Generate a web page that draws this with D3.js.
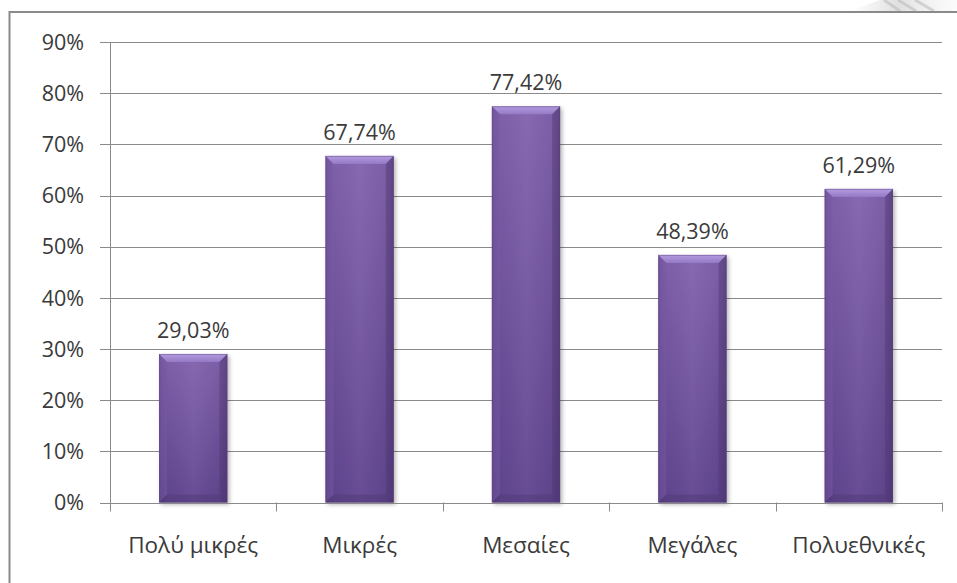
<!DOCTYPE html>
<html>
<head>
<meta charset="utf-8">
<script src="https://cdn.jsdelivr.net/npm/d3@7"></script>
<style>
  html, body { margin: 0; padding: 0; background: #ffffff; }
  svg { display: block; }
  text { font-family: "Open Sans", "Noto Sans", sans-serif; fill: #3a3a3a; }
</style>
</head>
<body>
<svg id="chart" width="957" height="583"></svg>
<script>
// Share of companies per size class
const categories = ["Πολύ μικρές", "Μικρές", "Μεσαίες", "Μεγάλες", "Πολυεθνικές"];
const values = [29.03, 67.74, 77.42, 48.39, 61.29];
const valueLabels = ["29,03%", "67,74%", "77,42%", "48,39%", "61,29%"];
const yTicks = [0, 10, 20, 30, 40, 50, 60, 70, 80, 90];
const yTickLabels = ["0%", "10%", "20%", "30%", "40%", "50%", "60%", "70%", "80%", "90%"];

const svg = d3.select("#chart");
const W = 957, H = 583;
const plot = { left: 110, right: 942, top: 42, bottom: 502.5 };
const gridColor = "#8a8a8a";

const x = d3.scaleBand().domain(categories).range([plot.left, plot.right]).paddingInner(0).paddingOuter(0);
const y = d3.scaleLinear().domain([0, 90]).range([plot.bottom, plot.top]);

const defs = svg.append("defs");

// body shading: darker towards the base
const gBody = defs.append("linearGradient").attr("id", "barBody").attr("x1", 0).attr("y1", 0).attr("x2", 0).attr("y2", 1);
gBody.append("stop").attr("offset", "0%").attr("stop-color", "#8263ae");
gBody.append("stop").attr("offset", "100%").attr("stop-color", "#614690");

// side shading across the bar
const gSide = defs.append("linearGradient").attr("id", "barSide").attr("x1", 0).attr("y1", 0).attr("x2", 1).attr("y2", 0);
gSide.append("stop").attr("offset", "0%").attr("stop-color", "#000").attr("stop-opacity", 0.16);
gSide.append("stop").attr("offset", "12%").attr("stop-color", "#000").attr("stop-opacity", 0.03);
gSide.append("stop").attr("offset", "50%").attr("stop-color", "#fff").attr("stop-opacity", 0.04);
gSide.append("stop").attr("offset", "88%").attr("stop-color", "#000").attr("stop-opacity", 0.04);
gSide.append("stop").attr("offset", "100%").attr("stop-color", "#000").attr("stop-opacity", 0.2);

// lighter top bevel
const gTop = defs.append("linearGradient").attr("id", "barTop").attr("x1", 0).attr("y1", 0).attr("x2", 0).attr("y2", 1);
gTop.append("stop").attr("offset", "0%").attr("stop-color", "#b49ce0");
gTop.append("stop").attr("offset", "100%").attr("stop-color", "#9479c4");

const shadow = defs.append("filter").attr("id", "barShadow").attr("x", "-20%").attr("y", "-10%").attr("width", "150%").attr("height", "130%");
shadow.append("feGaussianBlur").attr("in", "SourceAlpha").attr("stdDeviation", 2.2);
shadow.append("feOffset").attr("dx", 2).attr("dy", 2).attr("result", "off");
shadow.append("feComponentTransfer").append("feFuncA").attr("type", "linear").attr("slope", 0.3);
const merge = shadow.append("feMerge");
merge.append("feMergeNode");
merge.append("feMergeNode").attr("in", "SourceGraphic");

// page background
svg.append("rect").attr("width", W).attr("height", H).attr("fill", "#ffffff");

// folded corner texture at the top right
const curlGrad = defs.append("linearGradient").attr("id", "curlGrad").attr("x1", 0).attr("y1", 0).attr("x2", 1).attr("y2", 0);
curlGrad.append("stop").attr("offset", "0%").attr("stop-color", "#e4e4e4").attr("stop-opacity", 0);
curlGrad.append("stop").attr("offset", "45%").attr("stop-color", "#dcdcdc").attr("stop-opacity", 0.9);
curlGrad.append("stop").attr("offset", "100%").attr("stop-color", "#f2f2f2").attr("stop-opacity", 0.3);
svg.append("path").attr("d", "M850,11 L957,11 L957,0 L880,0 Z").attr("fill", "url(#curlGrad)");
const curl = svg.append("g").attr("opacity", 0.6);
[[884, 0, 900, 11], [898, 0, 916, 11], [915, 0, 934, 11]].forEach(s => {
  curl.append("line").attr("x1", s[0]).attr("y1", s[1]).attr("x2", s[2]).attr("y2", s[3])
    .attr("stroke", "#bdbdbd").attr("stroke-width", 3);
});

// chart frame (continues past the right and bottom edges)
svg.append("rect").attr("x", 9.5).attr("y", 12).attr("width", W + 20).attr("height", H + 20)
  .attr("fill", "#ffffff").attr("stroke", "#8a8a8a").attr("stroke-width", 2);

// horizontal gridlines with outward ticks
svg.append("g").selectAll("line").data(yTicks.filter(t => t > 0)).join("line")
  .attr("x1", plot.left - 10).attr("x2", plot.right)
  .attr("y1", d => Math.round(y(d)) + 0.5).attr("y2", d => Math.round(y(d)) + 0.5)
  .attr("stroke", gridColor).attr("stroke-width", 1);

// y tick labels
svg.append("g").selectAll("text").data(yTicks).join("text")
  .attr("x", 84).attr("y", d => y(d))
  .attr("dy", "0.36em").attr("text-anchor", "end")
  .style("font-size", "21.5px")
  .text((d, i) => yTickLabels[i]);

// bars
const barW = x.bandwidth() * 0.41;
const bev = 8;
const bars = svg.append("g").selectAll("g").data(values).join("g")
  .attr("transform", (d, i) => `translate(${x(categories[i]) + (x.bandwidth() - barW) / 2},${y(d)})`);

bars.each(function (d) {
  const g = d3.select(this);
  const h = y(0) - y(d);
  const w = barW;
  const body = g.append("g").attr("filter", "url(#barShadow)");
  body.append("rect").attr("width", w).attr("height", h).attr("fill", "url(#barBody)");
  body.append("rect").attr("width", w).attr("height", h).attr("fill", "url(#barSide)");
  // top bevel
  g.append("path").attr("d", `M0,0 L${w},0 L${w - bev},${bev} L${bev},${bev} Z`).attr("fill", "url(#barTop)");
  // left bevel
  g.append("path").attr("d", `M0,0 L${bev},${bev} L${bev},${h - bev} L0,${h} Z`).attr("fill", "#7b5ca8").attr("opacity", 0.45);
  // right bevel
  g.append("path").attr("d", `M${w},0 L${w - bev},${bev} L${w - bev},${h - bev} L${w},${h} Z`).attr("fill", "#4f3774").attr("opacity", 0.4);
  // bottom bevel
  g.append("path").attr("d", `M0,${h} L${bev},${h - bev} L${w - bev},${h - bev} L${w},${h} Z`).attr("fill", "#4b336e").attr("opacity", 0.35);
  // thin outline
  g.append("rect").attr("x", 0.5).attr("y", 0.5).attr("width", w - 1).attr("height", h - 1)
    .attr("fill", "none").attr("stroke", "#5a3f80").attr("stroke-opacity", 0.45);
});

// axis lines and category separators
svg.append("line").attr("x1", plot.left + 0.5).attr("x2", plot.left + 0.5)
  .attr("y1", plot.top).attr("y2", plot.bottom + 8).attr("stroke", gridColor);
svg.append("line").attr("x1", plot.left - 10).attr("x2", plot.right)
  .attr("y1", Math.round(plot.bottom) + 0.5).attr("y2", Math.round(plot.bottom) + 0.5).attr("stroke", gridColor);
const bounds = categories.map(c => x(c)).concat([plot.right]);
svg.append("g").selectAll("line").data(bounds).join("line")
  .attr("x1", d => Math.round(d) + 0.5).attr("x2", d => Math.round(d) + 0.5)
  .attr("y1", plot.bottom).attr("y2", plot.bottom + 9).attr("stroke", gridColor);

// value labels
svg.append("g").selectAll("text").data(values).join("text")
  .attr("x", (d, i) => x(categories[i]) + x.bandwidth() / 2)
  .attr("y", d => y(d) - 16)
  .attr("text-anchor", "middle")
  .style("font-size", "21.5px")
  .text((d, i) => valueLabels[i]);

// category labels
svg.append("g").selectAll("text").data(categories).join("text")
  .attr("x", d => x(d) + x.bandwidth() / 2)
  .attr("y", 553)
  .attr("text-anchor", "middle")
  .style("font-size", "22.5px")
  .text(d => d);
</script>
</body>
</html>
